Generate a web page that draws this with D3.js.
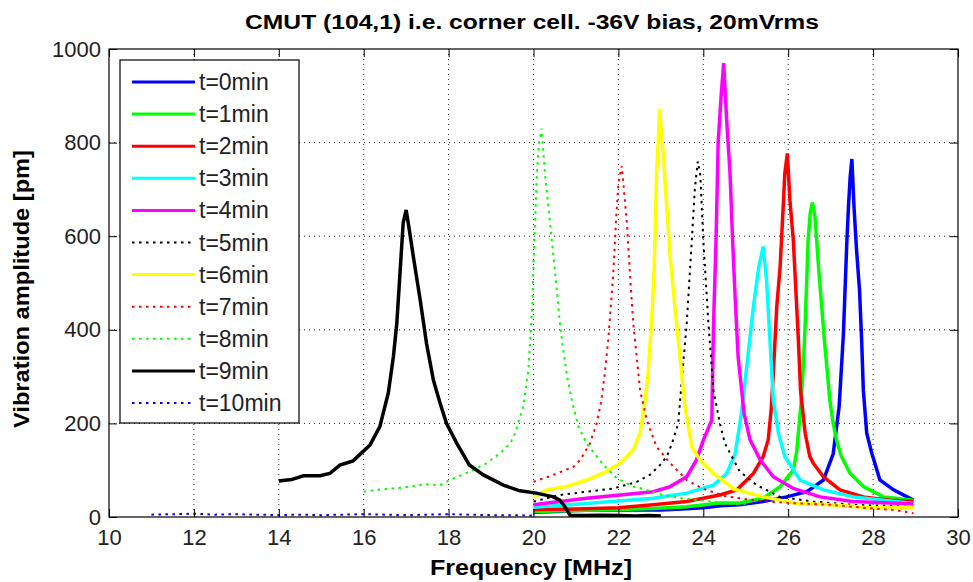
<!DOCTYPE html>
<html>
<head>
<meta charset="utf-8">
<script src="https://cdn.jsdelivr.net/npm/d3@7"></script>
<style>
  html, body { margin: 0; padding: 0; background: #fff; }
  svg { display: block; font-family: "Liberation Sans", Arial, sans-serif; }
</style>
</head>
<body>
<svg id="chart" width="973" height="582"></svg>
<script>
// ---------------- DATA ----------------
const title = "CMUT (104,1) i.e. corner cell. -36V bias, 20mVrms";
const xLabel = "Frequency [MHz]";
const yLabel = "Vibration amplitude [pm]";
const xTicks = [10, 12, 14, 16, 18, 20, 22, 24, 26, 28, 30];
const yTicks = [0, 200, 400, 600, 800, 1000];
const seriesNames = ["t=0min","t=1min","t=2min","t=3min","t=4min","t=5min","t=6min","t=7min","t=8min","t=9min","t=10min"];

// [frequency MHz, amplitude pm]
const t0 = [[20.0,10],[20.5,12],[21.0,14],[21.5,15],[22.0,15],[22.5,15],[23.0,15],[23.5,17],[24.0,20],[24.4,24],[24.86,26],[25.4,33],[25.96,43],[26.44,54],[26.83,79],[27.06,135],[27.2,236],[27.3,390],[27.38,585],[27.42,663],[27.46,727],[27.5,765],[27.55,663],[27.61,571],[27.68,485],[27.73,378],[27.77,271],[27.85,179],[27.97,136],[28.16,79],[28.48,58],[28.95,36]];
const t1 = [[20.0,12],[21.0,14],[22.0,16],[22.82,18],[23.6,22],[24.39,30],[24.86,30],[25.41,40],[25.81,65],[26.12,100],[26.2,140],[26.3,240],[26.36,330],[26.4,414],[26.47,592],[26.52,650],[26.57,672],[26.63,642],[26.67,592],[26.71,540],[26.79,449],[26.85,380],[26.91,321],[26.98,250],[27.06,200],[27.15,160],[27.25,130],[27.46,93],[27.77,65],[28.24,43],[28.95,36]];
const t2 = [[20.0,16],[21.0,17],[22.0,20],[22.82,26],[23.61,33],[24.39,47],[24.79,58],[25.18,93],[25.41,129],[25.53,165],[25.6,230],[25.65,307],[25.73,449],[25.81,535],[25.85,606],[25.89,677],[25.92,734],[25.98,777],[26.04,677],[26.12,592],[26.18,485],[26.24,378],[26.29,271],[26.4,179],[26.51,129],[26.59,115],[26.83,86],[27.22,58],[27.77,43],[28.4,36],[28.95,33]];
const t3 = [[20.0,21],[21.25,29],[22.82,40],[23.61,51],[24.24,68],[24.55,93],[24.75,135],[24.9,222],[25.05,343],[25.18,449],[25.3,530],[25.41,578],[25.49,506],[25.57,378],[25.65,250],[25.77,179],[25.92,129],[26.28,79],[26.83,58],[27.53,43],[28.95,29]];
const t4 = [[20.0,26],[21.25,40],[22.04,47],[22.82,54],[23.22,65],[23.61,86],[23.84,122],[24.0,164],[24.2,207],[24.24,407],[24.3,592],[24.35,800],[24.42,900],[24.48,970],[24.55,848],[24.63,734],[24.69,592],[24.75,470],[24.82,343],[24.96,222],[25.1,165],[25.34,122],[25.65,86],[26.12,61],[26.75,43],[27.53,33],[28.95,28]];
const t5 = [[20.0,33],[20.62,47],[21.25,54],[21.88,61],[22.43,75],[22.74,90],[22.98,111],[23.14,129],[23.25,154],[23.41,200],[23.5,300],[23.61,414],[23.73,592],[23.8,700],[23.87,760],[23.93,730],[24.0,592],[24.12,414],[24.24,271],[24.39,200],[24.51,157],[24.86,97],[25.26,68],[25.81,43],[26.59,33],[27.53,26],[28.95,22]];
const t6 = [[20.0,42],[20.31,58],[20.78,65],[21.25,79],[21.72,97],[22.04,115],[22.35,143],[22.51,179],[22.63,250],[22.7,307],[22.78,414],[22.84,521],[22.86,592],[22.9,735],[22.94,805],[22.97,872],[23.06,770],[23.14,663],[23.22,556],[23.33,449],[23.45,342],[23.57,236],[23.73,150],[23.92,122],[24.24,93],[24.55,72],[24.7,60],[25.41,43],[26.2,29],[26.98,26],[28.0,19],[28.94,21]];
const t7 = [[20.0,75],[20.15,80],[20.35,86],[20.55,93],[20.74,100],[20.94,107],[21.1,122],[21.33,157],[21.49,200],[21.6,250],[21.68,307],[21.76,378],[21.82,449],[21.88,521],[21.94,628],[22.0,713],[22.08,750],[22.2,628],[22.27,521],[22.35,414],[22.43,343],[22.51,271],[22.67,207],[22.9,150],[23.22,115],[23.61,79],[24.0,60],[24.5,45],[25.0,38],[25.5,33],[26.0,30],[26.5,28],[27.0,26],[27.5,22],[28.0,18],[28.5,15],[28.95,8]];
const t8 = [[16.0,54],[16.31,58],[16.93,63],[17.44,70],[17.8,68],[18.03,79],[18.5,97],[18.9,115],[19.21,136],[19.45,157],[19.57,179],[19.68,214],[19.76,236],[19.84,290],[19.88,314],[19.97,449],[20.02,592],[20.08,735],[20.13,800],[20.19,830],[20.27,734],[20.39,628],[20.47,556],[20.55,485],[20.62,414],[20.7,357],[20.78,307],[20.9,250],[21.06,193],[21.25,157],[21.65,111],[21.96,83],[22.35,65],[22.5,62],[23.05,47],[23.5,40],[24.0,35],[24.5,30],[25.0,28]];
const t9 = [[14.0,77],[14.3,80],[14.58,88],[14.97,88],[15.2,93],[15.44,111],[15.75,120],[15.95,137],[16.15,154],[16.38,193],[16.58,265],[16.7,343],[16.78,414],[16.86,528],[16.93,628],[17.0,656],[17.05,628],[17.17,556],[17.33,464],[17.48,371],[17.64,293],[17.8,243],[17.95,200],[18.19,158],[18.49,111],[18.82,90],[19.29,68],[19.68,56],[20.07,51],[20.47,43],[20.62,36],[20.74,22],[20.86,4],[21.2,3],[21.6,4],[22.0,3],[22.4,2],[22.7,3],[23.0,2]];
const t10 = [[11.0,5],[11.5,6],[12.0,7],[12.5,5],[13.0,6],[13.5,5],[14.0,4],[14.5,5],[15.0,4],[15.5,5],[16.0,6],[16.5,5],[17.0,4],[17.5,5],[18.0,6],[18.5,5],[19.0,4],[19.5,4],[20.0,3]];

const allSeries = [t0, t1, t2, t3, t4, t5, t6, t7, t8, t9, t10];

// ---------------- STYLE ----------------
const colors = ["#0000ff","#00ff00","#ff0000","#00ffff","#ff00ff","#000000","#ffff00","#ff0000","#00ff00","#000000","#0000ff"];
const dotted = [false,false,false,false,false,true,false,true,true,false,true];

const W = 973, H = 582;
const plot = { left: 109, right: 958, top: 49, bottom: 517 };

const svg = d3.select("#chart");
svg.append("rect").attr("width", W).attr("height", H).attr("fill", "#fff");

const x = d3.scaleLinear().domain([10, 30]).range([plot.left, plot.right]);
const y = d3.scaleLinear().domain([0, 1000]).range([plot.bottom, plot.top]);

// grid
const grid = svg.append("g");
grid.selectAll("line.gx").data(xTicks.slice(1, -1)).enter().append("line")
  .attr("x1", d => x(d)).attr("x2", d => x(d))
  .attr("y1", plot.top).attr("y2", plot.bottom)
  .attr("stroke", "#222").attr("stroke-width", 1).attr("stroke-dasharray", "1,4");
grid.selectAll("line.gy").data(yTicks.slice(1, -1)).enter().append("line")
  .attr("y1", d => y(d)).attr("y2", d => y(d))
  .attr("x1", plot.left).attr("x2", plot.right)
  .attr("stroke", "#222").attr("stroke-width", 1).attr("stroke-dasharray", "1,4");

// clip
svg.append("clipPath").attr("id", "clip").append("rect")
  .attr("x", plot.left).attr("y", plot.top)
  .attr("width", plot.right - plot.left).attr("height", plot.bottom - plot.top);

const line = d3.line().x(d => x(d[0])).y(d => y(d[1]));
const lines = svg.append("g").attr("clip-path", "url(#clip)");
allSeries.forEach((s, i) => {
  lines.append("path").datum(s)
    .attr("d", line)
    .attr("fill", "none")
    .attr("stroke", colors[i])
    .attr("stroke-width", dotted[i] ? 2 : 3.5)
    .attr("stroke-linejoin", "miter")
    .attr("stroke-dasharray", dotted[i] ? "2.5,4.5" : null);
});

// axes (ticks inside)
const fontTick = 22;
const axB = svg.append("g").attr("transform", `translate(0,${plot.bottom})`)
  .call(d3.axisBottom(x).tickValues(xTicks).tickSize(-8).tickPadding(12).tickFormat(d3.format("d")));
const axT = svg.append("g").attr("transform", `translate(0,${plot.top})`)
  .call(d3.axisTop(x).tickValues(xTicks).tickSize(-8).tickFormat(""));
const axL = svg.append("g").attr("transform", `translate(${plot.left},0)`)
  .call(d3.axisLeft(y).tickValues(yTicks).tickSize(-8).tickPadding(8).tickFormat(d3.format("d")));
const axR = svg.append("g").attr("transform", `translate(${plot.right},0)`)
  .call(d3.axisRight(y).tickValues(yTicks).tickSize(-8).tickFormat(""));
[axB, axT, axL, axR].forEach(a => {
  a.select(".domain").remove();
  a.selectAll("line").attr("stroke", "#000").attr("stroke-width", 1);
  a.selectAll("text").attr("font-size", fontTick).attr("fill", "#222")
    .attr("font-family", "\"Liberation Sans\", Arial, sans-serif");
});

// frame
svg.append("rect").attr("x", plot.left).attr("y", plot.top)
  .attr("width", plot.right - plot.left).attr("height", plot.bottom - plot.top)
  .attr("fill", "none").attr("stroke", "#000").attr("stroke-width", 1.2);

// title
svg.append("text").attr("x", 532).attr("y", 29).attr("text-anchor", "middle")
  .attr("font-size", 20).attr("font-weight", "bold").attr("fill", "#000")
  .attr("textLength", 574).attr("lengthAdjust", "spacingAndGlyphs")
  .text(title);

// axis labels
svg.append("text").attr("x", 531).attr("y", 575).attr("text-anchor", "middle")
  .attr("font-size", 22).attr("font-weight", "bold").attr("fill", "#000")
  .attr("textLength", 202).attr("lengthAdjust", "spacingAndGlyphs")
  .text(xLabel);
svg.append("text").attr("transform", "translate(29,289) rotate(-90)").attr("text-anchor", "middle")
  .attr("font-size", 22).attr("font-weight", "bold").attr("fill", "#000")
  .attr("textLength", 278).attr("lengthAdjust", "spacingAndGlyphs")
  .text(yLabel);

// legend
const lg = svg.append("g");
lg.append("rect").attr("x", 120).attr("y", 60).attr("width", 179).attr("height", 363)
  .attr("fill", "#fff").attr("stroke", "#000").attr("stroke-width", 1.2);
seriesNames.forEach((name, i) => {
  const yy = 82 + i * 32.1;
  lg.append("line").attr("x1", 132).attr("x2", 195).attr("y1", yy).attr("y2", yy)
    .attr("stroke", colors[i]).attr("stroke-width", dotted[i] ? 2 : 3)
    .attr("stroke-dasharray", dotted[i] ? "2.5,4.5" : null);
  lg.append("text").attr("x", 199).attr("y", yy + 8).attr("font-size", 23)
    .attr("fill", "#222").text(name);
});
</script>
</body>
</html>
